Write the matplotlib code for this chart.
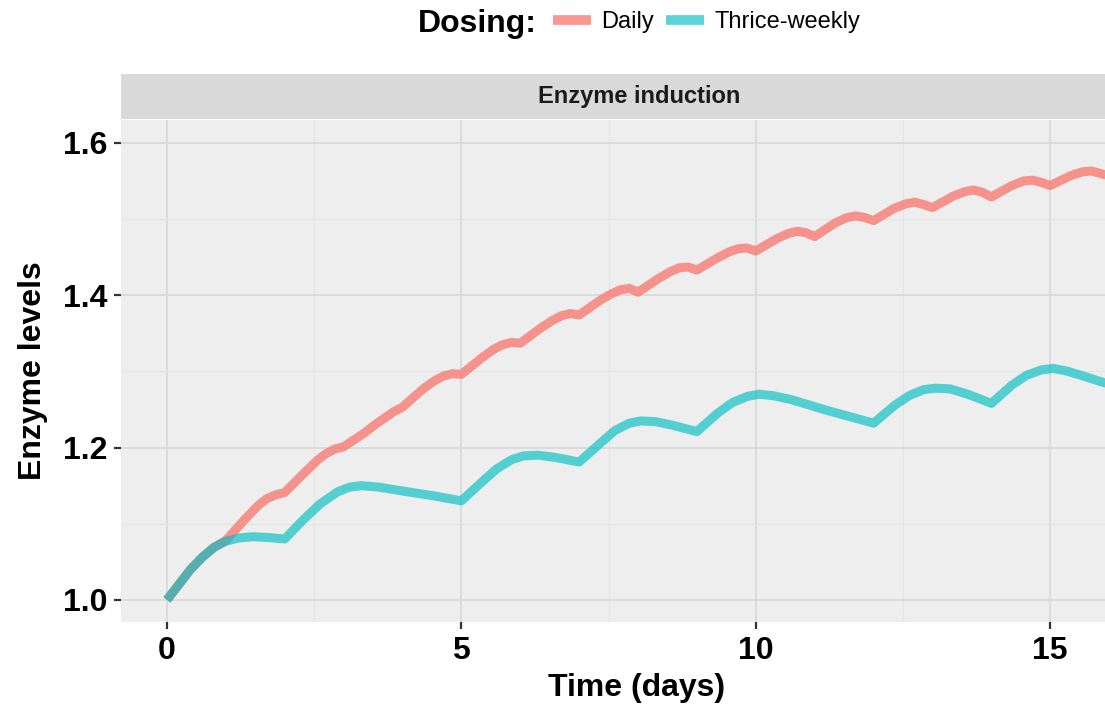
import matplotlib
matplotlib.use('Agg')
import matplotlib.pyplot as plt
from matplotlib.lines import Line2D

plt.rcParams['font.family'] = ['Liberation Sans', 'DejaVu Sans']

# Daily dosing curve (time in days, enzyme level)
daily_t = [0, 0.2, 0.4, 0.6, 0.8, 1.0,
           1.35, 1.55, 1.7, 1.85, 2.0,
           2.35, 2.55, 2.7, 2.85, 3.0,
           3.35, 3.55, 3.7, 3.85, 4.0,
           4.35, 4.55, 4.7, 4.85, 5.0,
           5.35, 5.55, 5.7, 5.85, 6.0,
           6.35, 6.55, 6.7, 6.85, 7.0,
           7.35, 7.55, 7.7, 7.85, 8.0,
           8.35, 8.55, 8.7, 8.85, 9.0,
           9.35, 9.55, 9.7, 9.85, 10.0,
           10.35, 10.55, 10.7, 10.85, 11.0,
           11.35, 11.55, 11.7, 11.85, 12.0,
           12.35, 12.55, 12.7, 12.85, 13.0,
           13.35, 13.55, 13.7, 13.85, 14.0,
           14.35, 14.55, 14.7, 14.85, 15.0,
           15.35, 15.55, 15.7, 15.85, 16.0]
daily_y = [1.000, 1.020, 1.040, 1.056, 1.069, 1.078,
           1.108, 1.124, 1.133, 1.138, 1.141,
           1.168, 1.183, 1.192, 1.198, 1.201,
           1.219, 1.231, 1.239, 1.247, 1.253,
           1.277, 1.288, 1.294, 1.297, 1.296,
           1.318, 1.329, 1.335, 1.338, 1.337,
           1.357, 1.367, 1.373, 1.376, 1.374,
           1.393, 1.402, 1.407, 1.409, 1.404,
           1.422, 1.431, 1.436, 1.437, 1.433,
           1.449, 1.457, 1.461, 1.462, 1.458,
           1.474, 1.481, 1.484, 1.482, 1.477,
           1.495, 1.502, 1.504, 1.502, 1.498,
           1.514, 1.520, 1.522, 1.519, 1.515,
           1.530, 1.536, 1.538, 1.535, 1.529,
           1.544, 1.550, 1.551, 1.548, 1.544,
           1.557, 1.562, 1.563, 1.560, 1.556]

# Thrice-weekly dosing curve
tw_t = [0, 0.2, 0.4, 0.6, 0.8, 1.0, 1.2, 1.45, 1.7, 2.0,
        2.3, 2.6, 2.9, 3.1, 3.3, 3.6, 4.0, 4.5, 5.0,
        5.35, 5.6, 5.85, 6.05, 6.3, 6.6, 7.0,
        7.35, 7.6, 7.85, 8.05, 8.3, 8.6, 9.0,
        9.35, 9.6, 9.85, 10.05, 10.3, 10.6, 11.2, 12.0,
        12.35, 12.6, 12.85, 13.05, 13.3, 13.6, 14.0,
        14.35, 14.6, 14.85, 15.05, 15.3, 15.6, 16.0]
tw_y = [1.000, 1.020, 1.040, 1.056, 1.069, 1.077, 1.081, 1.083, 1.082, 1.080,
        1.104, 1.126, 1.142, 1.148, 1.150, 1.148, 1.143, 1.137, 1.130,
        1.155, 1.172, 1.184, 1.189, 1.190, 1.187, 1.181,
        1.205, 1.222, 1.232, 1.235, 1.234, 1.229, 1.221,
        1.245, 1.259, 1.267, 1.270, 1.268, 1.263, 1.249, 1.232,
        1.255, 1.268, 1.276, 1.278, 1.277, 1.270, 1.258,
        1.282, 1.295, 1.302, 1.304, 1.300, 1.293, 1.283]

x_ticks = [0, 5, 10, 15]
y_ticks = [1.0, 1.2, 1.4, 1.6]
series_names = ['Daily', 'Thrice-weekly']
colors = ['#F8766D', '#00BFC4']

W, H = 1105, 708
fig = plt.figure(figsize=(W / 100, H / 100), dpi=100)

# panel
ax = fig.add_axes([121 / W, 1 - 622 / H, (W - 121) / W, (622 - 120) / H])
ax.set_facecolor('#EEEEEE')
ax.plot(daily_t, daily_y, color=colors[0], lw=6.5, alpha=0.76,
        solid_capstyle='butt', solid_joinstyle='round', zorder=3)
ax.plot(tw_t, tw_y, color=colors[1], lw=6.5, alpha=0.65,
        solid_capstyle='butt', solid_joinstyle='round', zorder=3)

ax.set_xlim(-0.78, 15.93)
ax.set_ylim(0.971, 1.630)
ax.set_xticks(x_ticks)
ax.set_xticks([2.5, 7.5, 12.5], minor=True)
ax.set_yticks(y_ticks)
ax.set_yticks([1.1, 1.3, 1.5], minor=True)
ax.set_yticklabels([f'{v:.1f}' for v in y_ticks])
ax.grid(which='major', color='#DADADA', lw=1.3, zorder=0)
ax.grid(which='minor', color='#E4E4E4', lw=0.8, zorder=0)
ax.tick_params(which='major', length=5, width=1.6, color='#333333',
               labelsize=23, pad=5)
ax.tick_params(which='minor', length=0)
for lab in ax.get_xticklabels() + ax.get_yticklabels():
    lab.set_fontweight('bold')
for s in ax.spines.values():
    s.set_visible(False)

# facet strip
strip = fig.add_axes([121 / W, 1 - 119 / H, (W - 121) / W, 45 / H])
strip.set_facecolor('#D9D9D9')
strip.set_xticks([])
strip.set_yticks([])
for s in strip.spines.values():
    s.set_visible(False)
fig.text(639 / W, 1 - 97 / H, 'Enzyme induction', ha='center', va='center',
         fontsize=17, fontweight='bold', color='#1A1A1A')

# axis titles
fig.text(637 / W, 1 - 688 / H, 'Time (days)', ha='center', va='center',
         fontsize=23, fontweight='bold')
fig.text(33 / W, 1 - 371 / H, 'Enzyme levels', ha='center', va='center',
         rotation=90, fontsize=23, fontweight='bold')

# legend on top
fig.text(418 / W, 1 - 24 / H, 'Dosing:', ha='left', va='center',
         fontsize=23, fontweight='bold')
handles = [Line2D([], [], color=c, lw=7, alpha=a, solid_capstyle='butt')
           for c, a in zip(colors, [0.76, 0.65])]
fig.legend(handles, series_names, loc='center left',
           bbox_to_anchor=(553 / W, 1 - 22 / H), ncol=2, frameon=False,
           fontsize=17, handlelength=1.6, handletextpad=0.45,
           columnspacing=0.5, borderpad=0, borderaxespad=0)

fig.savefig('out.png', dpi=100)
